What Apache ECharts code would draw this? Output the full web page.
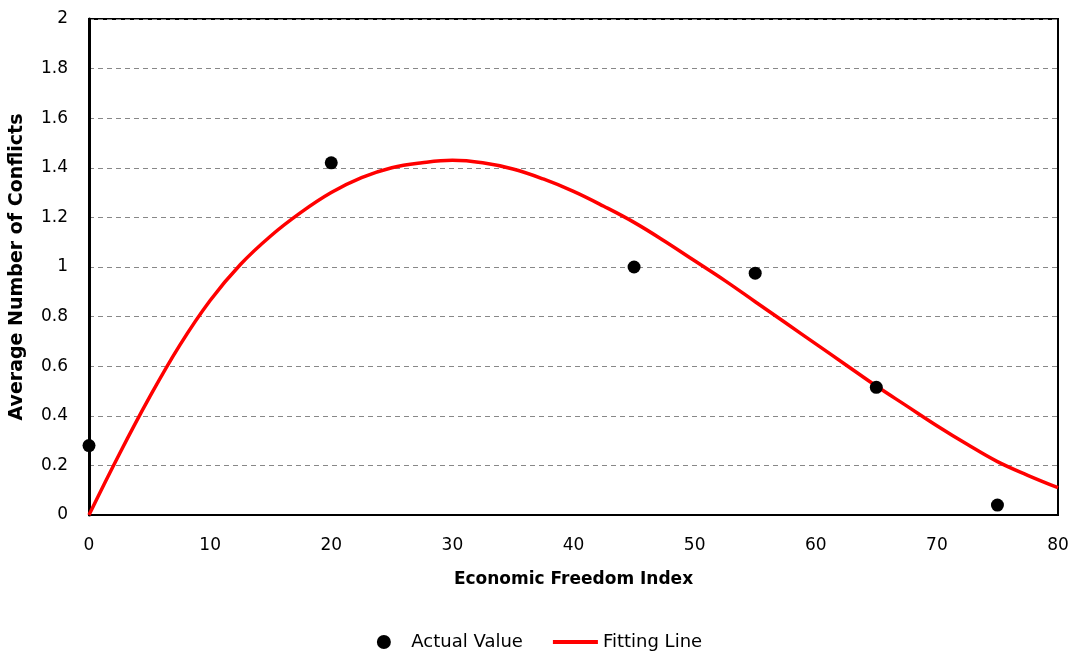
<!DOCTYPE html>
<html>
<head>
<meta charset="utf-8">
<script src="https://cdn.jsdelivr.net/npm/echarts@6/dist/echarts.min.js"></script>
<style>html,body{margin:0;padding:0;background:#fff}#c{width:1079px;height:654px}</style>
</head>
<body>
<div id="c"></div>
<script>
const actualX = [0, 20, 45, 55, 65, 75];
const actualY = [0.28, 1.42, 1.0, 0.975, 0.515, 0.04];
const fitX = [0, 2.5, 5, 7.5, 10, 12.5, 15, 17.5, 20, 22.5, 25, 27.5, 30, 32.5, 35, 37.5, 40, 42.5, 45, 47.5, 50, 52.5, 55, 57.5, 60, 62.5, 65, 67.5, 70, 72.5, 75, 77.5, 80];
const fitY = [0, 0.245, 0.475, 0.685, 0.865, 1.01, 1.125, 1.22, 1.30, 1.36, 1.40, 1.42, 1.43, 1.42, 1.395, 1.355, 1.305, 1.245, 1.18, 1.105, 1.025, 0.945, 0.86, 0.775, 0.69, 0.605, 0.52, 0.44, 0.36, 0.285, 0.215, 0.16, 0.11];
const xName = 'Economic Freedom Index';
const yName = 'Average Number of Conflicts';

const font = '"DejaVu Sans", sans-serif';
const chart = echarts.init(document.getElementById('c'));
chart.setOption({
  animation: false,
  grid: { left: 89, right: 21, top: 19, bottom: 139, show: true, borderColor: '#000', borderWidth: 2, containLabel: false },
  legend: {
    top: 628, left: 'center', itemGap: 30, itemWidth: 45, itemHeight: 14,
    textStyle: { fontFamily: font, fontSize: 18, color: '#000' },
    data: [
      { name: 'Actual Value', icon: 'circle', itemStyle: { color: '#000', opacity: 1 } },
      { name: 'Fitting Line', icon: 'path://M0 0 H45 V4 H0 Z', itemStyle: { color: '#ff0000' } }
    ]
  },
  xAxis: {
    type: 'value', min: 0, max: 80, interval: 10,
    name: xName, nameLocation: 'middle', nameGap: 56,
    nameTextStyle: { fontFamily: font, fontSize: 17, fontWeight: 'bold', color: '#000' },
    axisLine: { show: true, onZero: false, lineStyle: { color: '#000', width: 2 } },
    axisTick: { show: false },
    axisLabel: { fontFamily: font, fontSize: 17, color: '#000', margin: 22 },
    splitLine: { show: false }
  },
  yAxis: {
    type: 'value', min: 0, max: 2, interval: 0.2,
    name: yName, nameLocation: 'middle', nameGap: 62,
    nameTextStyle: { fontFamily: font, fontSize: 19, fontWeight: 'bold', color: '#000' },
    axisLine: { show: true, lineStyle: { color: '#000', width: 3 } },
    axisTick: { show: false },
    axisLabel: { fontFamily: font, fontSize: 17, color: '#000', margin: 21,
      formatter: v => String(Math.round(v * 10) / 10) },
    splitLine: { show: true, lineStyle: { color: '#888', type: [5, 4], width: 1 } }
  },
  series: [
    {
      name: 'Actual Value', type: 'scatter', symbol: 'circle', symbolSize: 13,
      itemStyle: { color: '#000', opacity: 1 }, z: 4,
      data: actualX.map((x, i) => [x, actualY[i]])
    },
    {
      name: 'Fitting Line', type: 'line', smooth: 0.4, showSymbol: false, symbol: 'none',
      lineStyle: { color: '#ff0000', width: 3.5 }, itemStyle: { color: '#ff0000' }, z: 3,
      data: fitX.map((x, i) => [x, fitY[i]])
    }
  ]
});
</script>
</body>
</html>
